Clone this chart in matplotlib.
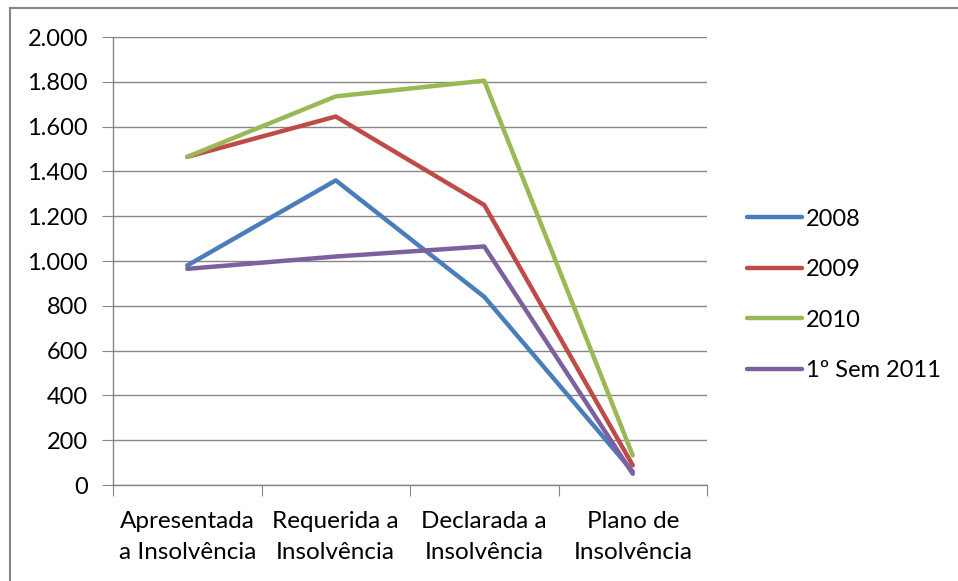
import matplotlib
matplotlib.use('Agg')
import matplotlib.pyplot as plt
from matplotlib.lines import Line2D
from matplotlib.ticker import FuncFormatter

categorias = ['Apresentada\na Insolvência', 'Requerida a\nInsolvência',
              'Declarada a\nInsolvência', 'Plano de\nInsolvência']
series = ['2008', '2009', '2010', '1º Sem 2011']
v2008 = [980, 1360, 840, 60]
v2009 = [1465, 1645, 1250, 88]
v2010 = [1465, 1735, 1805, 132]
v2011 = [965, 1020, 1065, 50]
cores = ['#4A7EBB', '#BE4B48', '#98B954', '#7D60A0']

plt.rcParams['font.family'] = ['Lato', 'DejaVu Sans']

fig = plt.figure(figsize=(9.58, 5.81), dpi=100)
ax = fig.add_axes([113/958, 1-485/581, (707-113)/958, (485-37)/581])

x = list(range(len(categorias)))
for vals, nome, c in zip([v2008, v2009, v2010, v2011], series, cores):
    ax.plot(x, vals, color=c, lw=3.2, label=nome, solid_capstyle='round',
            solid_joinstyle='round')

ax.set_xlim(-0.5, 3.5)
ax.set_ylim(0, 2000)
ax.set_yticks(range(0, 2001, 200))
ax.yaxis.set_major_formatter(FuncFormatter(lambda v, p: f'{int(v):,}'.replace(',', '.')))
ax.grid(axis='y', color='#868686', lw=1)
ax.set_axisbelow(True)

ax.set_xticks([-0.5, 0.5, 1.5, 2.5, 3.5])
ax.set_xticklabels([])
ax.set_xticks(x, minor=True)
ax.set_xticklabels(categorias, minor=True, fontsize=17.5, linespacing=1.55)
ax.tick_params(axis='x', which='major', length=8, color='#868686', direction='out')
ax.tick_params(axis='x', which='minor', length=0, pad=19)
ax.tick_params(axis='y', length=8, color='#868686', labelsize=17, pad=10)

for s in ['top', 'right']:
    ax.spines[s].set_visible(False)
for s in ['left', 'bottom']:
    ax.spines[s].set_color('#868686')
    ax.spines[s].set_linewidth(1)

ax.legend(loc='center left', bbox_to_anchor=(735/958, 1-295/581),
          bbox_transform=fig.transFigure, frameon=False, fontsize=17,
          handlelength=2.35, handletextpad=0.15, labelspacing=1.25,
          borderpad=0)

# moldura do gráfico
fig.add_artist(Line2D([10/958, 1], [1-8/581, 1-8/581], color='#868686', lw=1.5))
fig.add_artist(Line2D([10/958, 10/958], [0, 1-8/581], color='#868686', lw=1.5))

fig.savefig('out.png', dpi=100)
